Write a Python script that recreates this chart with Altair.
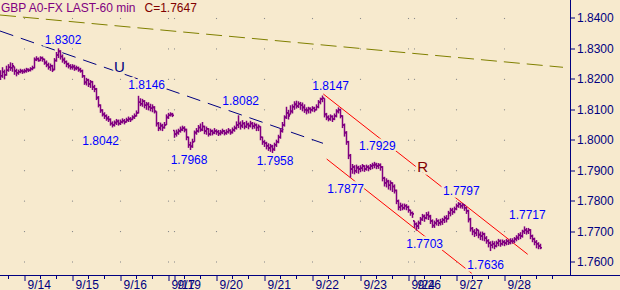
import altair as alt
import pandas as pd

BG = "#F7EACE"
PURPLE = "#800080"
NAVY = "#000080"
FONT = "Liberation Sans"

# ---------------- axis data ----------------
day_ticks = [12, 36, 60, 84, 87, 108, 132, 156, 180, 204, 207, 228, 252]
day_labels = ["9/14", "9/15", "9/16", "9/17", "9/19", "9/20", "9/21",
              "9/22", "9/23", "9/24", "9/26", "9/27", "9/28"]
minor_ticks = [4, 20, 28, 44, 52, 68, 76, 92, 100, 116, 124, 140, 148, 164,
               172, 188, 196, 212, 220, 236, 244, 260, 268, 276]
price_ticks = [1.76, 1.77, 1.78, 1.79, 1.80, 1.81, 1.82, 1.83, 1.84]

title_text = "GBP A0-FX LAST-60 min"
last_text = "C=1.7647"

# ---------------- hourly bars ----------------
highs = [
    1.8230, 1.8240, 1.8232, 1.8245, 1.8250, 1.8256, 1.8254, 1.8242, 1.8235, 1.8232, 1.8235, 1.8233,
    1.8235, 1.8238, 1.8236, 1.8240, 1.8245, 1.8272, 1.8276, 1.8272, 1.8276, 1.8275, 1.8268, 1.8262,
    1.8255, 1.8252, 1.8248, 1.8270, 1.8290, 1.8302, 1.8296, 1.8282, 1.8272, 1.8262, 1.8255, 1.8250,
    1.8250, 1.8248, 1.8245, 1.8242, 1.8238, 1.8232, 1.8214, 1.8205, 1.8202, 1.8198, 1.8195, 1.8182,
    1.8172, 1.8145, 1.8118, 1.8102, 1.8092, 1.8085, 1.8080, 1.8072, 1.8062, 1.8065, 1.8070, 1.8068,
    1.8068, 1.8072, 1.8070, 1.8074, 1.8078, 1.8076, 1.8082, 1.8088, 1.8098, 1.8146, 1.8138, 1.8136,
    1.8132, 1.8126, 1.8125, 1.8120, 1.8118, 1.8112, 1.8095, 1.8060, 1.8058, 1.8054, 1.8060, 1.8085,
    1.8090, 1.8092, 1.8090,
    1.8032, 1.8035, 1.8038, 1.8045, 1.8048, 1.8046, 1.8038, 1.8012, 1.7995, 1.8005, 1.8032, 1.8040,
    1.8050, 1.8055, 1.8060, 1.8048, 1.8045, 1.8040, 1.8038, 1.8035, 1.8040,
    1.8036, 1.8034, 1.8034, 1.8038, 1.8034, 1.8036, 1.8040, 1.8036, 1.8042, 1.8048, 1.8062, 1.8082,
    1.8062, 1.8066, 1.8060, 1.8064, 1.8058, 1.8064, 1.8060, 1.8058, 1.8055, 1.8052, 1.8046, 1.8012,
    1.8000, 1.7995, 1.7990, 1.7988, 1.7985, 1.7992, 1.8002, 1.8018, 1.8040, 1.8060, 1.8082, 1.8110,
    1.8100, 1.8115, 1.8118, 1.8128, 1.8130, 1.8128, 1.8126, 1.8124, 1.8118, 1.8108, 1.8110, 1.8108,
    1.8112, 1.8110, 1.8118, 1.8132, 1.8140, 1.8147, 1.8138, 1.8090, 1.8082, 1.8085, 1.8082, 1.8088,
    1.8102, 1.8108, 1.8104, 1.8082, 1.8055, 1.8030, 1.7998, 1.7955, 1.7922, 1.7918, 1.7920, 1.7916,
    1.7918, 1.7922, 1.7918, 1.7920, 1.7918, 1.7922, 1.7926, 1.7929, 1.7926, 1.7925, 1.7924, 1.7915,
    1.7880, 1.7875, 1.7870, 1.7868, 1.7862, 1.7855, 1.7838, 1.7805, 1.7795, 1.7792, 1.7792, 1.7790,
    1.7785, 1.7772, 1.7766,
    1.7735, 1.7730, 1.7736, 1.7748, 1.7758, 1.7756, 1.7764, 1.7766, 1.7755, 1.7740, 1.7736, 1.7744,
    1.7740, 1.7742, 1.7745, 1.7752, 1.7754, 1.7768, 1.7778, 1.7778, 1.7782,
    1.7792, 1.7797, 1.7795, 1.7794, 1.7790, 1.7782, 1.7772, 1.7745, 1.7715, 1.7708, 1.7712, 1.7706,
    1.7700, 1.7700, 1.7696, 1.7685, 1.7675, 1.7668, 1.7670, 1.7668, 1.7670, 1.7676, 1.7674, 1.7674,
    1.7672, 1.7676, 1.7674, 1.7678, 1.7678, 1.7682, 1.7688, 1.7695, 1.7698, 1.7706, 1.7717, 1.7712,
    1.7712, 1.7708, 1.7690, 1.7680, 1.7672, 1.7665, 1.7660,
]
lows = [
    1.8198, 1.8205, 1.8200, 1.8212, 1.8225, 1.8228, 1.8225, 1.8215, 1.8210, 1.8215, 1.8220, 1.8218,
    1.8220, 1.8222, 1.8224, 1.8226, 1.8230, 1.8236, 1.8260, 1.8258, 1.8260, 1.8258, 1.8248, 1.8240,
    1.8232, 1.8228, 1.8224, 1.8230, 1.8258, 1.8270, 1.8265, 1.8255, 1.8250, 1.8240, 1.8236, 1.8232,
    1.8232, 1.8228, 1.8230, 1.8225, 1.8222, 1.8205, 1.8182, 1.8180, 1.8175, 1.8172, 1.8165, 1.8158,
    1.8132, 1.8108, 1.8090, 1.8078, 1.8070, 1.8064, 1.8060, 1.8048, 1.8042, 1.8045, 1.8050, 1.8048,
    1.8050, 1.8055, 1.8052, 1.8058, 1.8060, 1.8060, 1.8066, 1.8070, 1.8078, 1.8088, 1.8112, 1.8110,
    1.8105, 1.8100, 1.8098, 1.8095, 1.8092, 1.8088, 1.8045, 1.8030, 1.8032, 1.8030, 1.8038, 1.8050,
    1.8070, 1.8078, 1.8076,
    1.8008, 1.8012, 1.8018, 1.8025, 1.8030, 1.8026, 1.8000, 1.7975, 1.7968, 1.7975, 1.7995, 1.8018,
    1.8025, 1.8028, 1.8030, 1.8020, 1.8018, 1.8012, 1.8015, 1.8016, 1.8020,
    1.8018, 1.8014, 1.8016, 1.8020, 1.8016, 1.8018, 1.8022, 1.8018, 1.8022, 1.8028, 1.8035, 1.8040,
    1.8035, 1.8040, 1.8036, 1.8040, 1.8036, 1.8042, 1.8036, 1.8038, 1.8030, 1.8030, 1.8000, 1.7985,
    1.7978, 1.7970, 1.7965, 1.7962, 1.7958, 1.7965, 1.7978, 1.7990, 1.8005, 1.8025, 1.8045, 1.8070,
    1.8068, 1.8085, 1.8088, 1.8100, 1.8104, 1.8106, 1.8100, 1.8095, 1.8090, 1.8085, 1.8088, 1.8088,
    1.8094, 1.8092, 1.8098, 1.8105, 1.8118, 1.8125, 1.8075, 1.8066, 1.8062, 1.8064, 1.8060, 1.8066,
    1.8075, 1.8088, 1.8072, 1.8040, 1.8012, 1.7985, 1.7938, 1.7877, 1.7890, 1.7888, 1.7892, 1.7890,
    1.7895, 1.7898, 1.7896, 1.7900, 1.7898, 1.7902, 1.7905, 1.7908, 1.7905, 1.7906, 1.7900, 1.7865,
    1.7848, 1.7845, 1.7838, 1.7835, 1.7830, 1.7825, 1.7790, 1.7770, 1.7768, 1.7770, 1.7772, 1.7770,
    1.7762, 1.7752, 1.7745,
    1.7712, 1.7703, 1.7708, 1.7722, 1.7735, 1.7732, 1.7740, 1.7738, 1.7725, 1.7712, 1.7712, 1.7720,
    1.7718, 1.7720, 1.7722, 1.7728, 1.7730, 1.7740, 1.7750, 1.7755, 1.7760,
    1.7770, 1.7778, 1.7776, 1.7775, 1.7768, 1.7758, 1.7730, 1.7700, 1.7688, 1.7682, 1.7685, 1.7678,
    1.7672, 1.7670, 1.7668, 1.7660, 1.7648, 1.7636, 1.7645, 1.7642, 1.7648, 1.7652, 1.7650, 1.7654,
    1.7652, 1.7655, 1.7656, 1.7658, 1.7660, 1.7662, 1.7668, 1.7672, 1.7675, 1.7680, 1.7692, 1.7690,
    1.7692, 1.7675, 1.7665, 1.7655, 1.7645, 1.7642, 1.7642,
]
closes = [
    1.8212, 1.8225, 1.8215, 1.8230, 1.8240, 1.8238, 1.8245, 1.8228, 1.8222, 1.8225, 1.8228, 1.8226,
    1.8228, 1.8232, 1.8230, 1.8235, 1.8238, 1.8265, 1.8268, 1.8262, 1.8270, 1.8266, 1.8255, 1.8248,
    1.8240, 1.8245, 1.8232, 1.8262, 1.8280, 1.8292, 1.8275, 1.8265, 1.8258, 1.8250, 1.8245, 1.8240,
    1.8242, 1.8236, 1.8238, 1.8232, 1.8228, 1.8212, 1.8190, 1.8198, 1.8185, 1.8192, 1.8175, 1.8168,
    1.8140, 1.8115, 1.8098, 1.8085, 1.8080, 1.8072, 1.8068, 1.8055, 1.8050, 1.8058, 1.8062, 1.8055,
    1.8060, 1.8064, 1.8060, 1.8066, 1.8070, 1.8068, 1.8075, 1.8080, 1.8090, 1.8125, 1.8120, 1.8128,
    1.8115, 1.8118, 1.8110, 1.8105, 1.8108, 1.8095, 1.8055, 1.8040, 1.8048, 1.8042, 1.8050, 1.8075,
    1.8082, 1.8085, 1.8082,
    1.8020, 1.8025, 1.8030, 1.8035, 1.8040, 1.8035, 1.8010, 1.7985, 1.7980, 1.7995, 1.8025, 1.8030,
    1.8042, 1.8035, 1.8045, 1.8030, 1.8038, 1.8020, 1.8030, 1.8025, 1.8030,
    1.8028, 1.8022, 1.8026, 1.8030, 1.8024, 1.8028, 1.8032, 1.8026, 1.8034, 1.8040, 1.8050, 1.8055,
    1.8048, 1.8055, 1.8045, 1.8052, 1.8048, 1.8055, 1.8046, 1.8050, 1.8042, 1.8045, 1.8010, 1.7995,
    1.7990, 1.7982, 1.7975, 1.7980, 1.7970, 1.7985, 1.7995, 1.8010, 1.8030, 1.8050, 1.8075, 1.8090,
    1.8080, 1.8095, 1.8110, 1.8118, 1.8112, 1.8120, 1.8115, 1.8108, 1.8100, 1.8098, 1.8104, 1.8100,
    1.8105, 1.8100, 1.8110, 1.8125, 1.8135, 1.8138, 1.8085, 1.8075, 1.8070, 1.8078, 1.8070, 1.8080,
    1.8095, 1.8100, 1.8080, 1.8050, 1.8025, 1.7995, 1.7950, 1.7905, 1.7912, 1.7900, 1.7910, 1.7905,
    1.7908, 1.7915, 1.7905, 1.7912, 1.7908, 1.7915, 1.7918, 1.7920, 1.7915, 1.7918, 1.7912, 1.7875,
    1.7860, 1.7865, 1.7852, 1.7860, 1.7848, 1.7835, 1.7800, 1.7780, 1.7785, 1.7778, 1.7785, 1.7780,
    1.7770, 1.7762, 1.7758,
    1.7725, 1.7718, 1.7728, 1.7740, 1.7750, 1.7745, 1.7755, 1.7750, 1.7735, 1.7720, 1.7728, 1.7735,
    1.7728, 1.7732, 1.7738, 1.7745, 1.7742, 1.7760, 1.7770, 1.7765, 1.7775,
    1.7785, 1.7790, 1.7785, 1.7788, 1.7778, 1.7768, 1.7740, 1.7710, 1.7700, 1.7695, 1.7705, 1.7690,
    1.7685, 1.7692, 1.7678, 1.7670, 1.7662, 1.7655, 1.7660, 1.7652, 1.7662, 1.7668, 1.7660, 1.7666,
    1.7662, 1.7668, 1.7664, 1.7670, 1.7668, 1.7675, 1.7680, 1.7688, 1.7685, 1.7700, 1.7705, 1.7700,
    1.7705, 1.7685, 1.7675, 1.7665, 1.7660, 1.7652, 1.7647,
]

# ---------------- trend lines (bar index, price) ----------------
line_names = ["olive", "olive", "blue", "blue", "red_up", "red_up", "red_lo", "red_lo"]
line_idx = [-0.25, 281.25, -0.25, 161.25, 161.4, 263.6, 163.1, 235.6]
line_price = [1.84115, 1.82397, 1.83589, 1.79900, 1.81519, 1.76253, 1.79384, 1.75629]

# ---------------- annotations ----------------
ann_text = ["1.8302", "1.8146", "1.8082", "1.8042", "1.7968", "1.7958", "1.8147",
            "1.7929", "1.7877", "1.7797", "1.7703", "1.7636", "1.7717"]
ann_idx = [22.6, 64.4, 111.4, 41.4, 85.6, 128.6, 156.4, 179.75, 163.9, 221.75, 203.4, 233.9, 254.75]
ann_price = [1.83152, 1.81674, 1.81142, 1.79834, 1.79230, 1.79177, 1.81641,
             1.79670, 1.78280, 1.78191, 1.76473, 1.75783, 1.77426]
wave_text = ["U", "R"]
wave_idx = [57.25, 208.9]
wave_price = [1.82252, 1.78973]
wave_color = [NAVY, "#800000"]

# ---------------- frames ----------------
n = len(closes)
opens = [closes[0]] + closes[:-1]
opens = [min(max(o, l), h) for o, l, h in zip(opens, lows, highs)]
bars = pd.DataFrame({"idx": list(range(n)), "high": highs, "low": lows,
                     "close": closes, "open": opens})
trend = pd.DataFrame({"line": line_names, "idx": line_idx, "price": line_price})
ann = pd.DataFrame({"text": ann_text, "idx": ann_idx, "price": ann_price})
waves = pd.DataFrame({"text": wave_text, "idx": wave_idx, "price": wave_price, "color": wave_color})
grid = pd.DataFrame([{"idx": d, "price": p} for d in day_ticks for p in price_ticks])
minor = pd.DataFrame({"idx": minor_ticks})

xs = alt.Scale(domain=[-0.25, 284.75], nice=False, zero=False)
ys = alt.Scale(domain=[1.755729, 1.846078], nice=False, zero=False)

label_expr = "".join(f"datum.value == {v} ? '{l}' : " for v, l in zip(day_ticks, day_labels)) + "''"

x_axis = alt.Axis(values=day_ticks, labelExpr=label_expr, orient="bottom", tickSize=6,
                  tickColor=NAVY, labelColor=NAVY, labelFont=FONT, labelFontSize=12,
                  labelAlign="left", labelBaseline="alphabetic", labelPadding=8, labelOffset=3,
                  domain=False, grid=False, translate=0, labelOverlap=False,
                  labelFlush=False, labelBound=False, title=None)
y_axis = alt.Axis(values=price_ticks, format=".4f", orient="right", tickSize=5,
                  tickColor=NAVY, labelColor=NAVY, labelFont=FONT, labelFontSize=12,
                  labelAlign="left", labelBaseline="middle", labelPadding=2,
                  domain=False, grid=False, translate=0, labelOverlap=False,
                  labelFlush=False, labelBound=False, title=None)


def X(f):
    return alt.X(f, type="quantitative", scale=xs, axis=x_axis)


def Y(f):
    return alt.Y(f, type="quantitative", scale=ys, axis=y_axis)


dots = alt.Chart(grid).mark_square(size=1.2, color="#8C8C8C", opacity=1).encode(
    x=X("idx"), y=Y("price"))

olive = alt.Chart(trend).transform_filter(alt.datum.line == "olive").mark_line(
    color="#808000", strokeWidth=1, strokeDash=[16, 7]).encode(x=X("idx"), y=Y("price"))
blue = alt.Chart(trend).transform_filter(alt.datum.line == "blue").mark_line(
    color=NAVY, strokeWidth=1, strokeDash=[14, 8]).encode(x=X("idx"), y=Y("price"))
red = alt.Chart(trend).transform_filter(
    (alt.datum.line == "red_up") | (alt.datum.line == "red_lo")).mark_line(
    color="#FF0000", strokeWidth=1).encode(x=X("idx"), y=Y("price"), detail="line:N")

halo_nums = alt.Chart(ann).mark_text(font=FONT, fontSize=12, align="left", baseline="alphabetic",
                                     dx=-1, fill=BG, stroke=BG, strokeWidth=5).encode(
    x=X("idx"), y=Y("price"), text="text:N")
halo_waves = alt.Chart(waves).mark_text(font=FONT, fontSize=15, align="left",
                                        baseline="alphabetic", dx=-1, fill=BG, stroke=BG,
                                        strokeWidth=5).encode(
    x=X("idx"), y=Y("price"), text="text:N")

hl = alt.Chart(bars).mark_rule(color=PURPLE, strokeWidth=1.5).encode(
    x=X("idx"), y=Y("low"), y2=alt.Y2("high"))
op = alt.Chart(bars).mark_rule(color=PURPLE, strokeWidth=1.6, xOffset=-1.5, x2Offset=0).encode(
    x=X("idx"), x2=alt.X2("idx"), y=Y("open"))
cl = alt.Chart(bars).mark_rule(color=PURPLE, strokeWidth=1.6, xOffset=0, x2Offset=1.5).encode(
    x=X("idx"), x2=alt.X2("idx"), y=Y("close"))

nums = alt.Chart(ann).mark_text(font=FONT, fontSize=12, align="left", baseline="alphabetic",
                                dx=-1, color="#0000FF").encode(
    x=X("idx"), y=Y("price"), text="text:N")
wave_lbl = alt.Chart(waves).mark_text(font=FONT, fontSize=15, align="left",
                                      baseline="alphabetic", dx=-1).encode(
    x=X("idx"), y=Y("price"), text="text:N", color=alt.Color("color:N", scale=None))

minor_rules = alt.Chart(minor).mark_rule(color=NAVY, strokeWidth=1).encode(
    x=X("idx"), y=alt.value(275), y2=alt.value(279))

frame_v = alt.Chart(minor).mark_rule(color=NAVY, strokeWidth=1).encode(
    x=alt.value(570.5), y=alt.value(0), y2=alt.value(275))
frame_h = alt.Chart(minor).mark_rule(color=NAVY, strokeWidth=1.2).encode(
    x=alt.value(0), x2=alt.value(620), y=alt.value(275.5))

title1 = alt.Chart(pd.DataFrame({"t": [title_text]})).mark_text(
    font=FONT, fontSize=12, align="left", baseline="alphabetic", color=PURPLE).encode(
    x=alt.value(1), y=alt.value(12), text="t:N")
title2 = alt.Chart(pd.DataFrame({"t": [last_text]})).mark_text(
    font=FONT, fontSize=12, align="left", baseline="alphabetic", color="#800000").encode(
    x=alt.value(144.5), y=alt.value(12), text="t:N")

chart = alt.layer(
    dots, olive, blue, red, halo_nums, halo_waves, hl, op, cl, nums, wave_lbl,
    minor_rules, frame_v, frame_h, title1, title2
).properties(
    width=570, height=275, background=BG,
    padding={"left": 0, "top": 0, "right": 50, "bottom": 15},
    autosize=alt.AutoSizeParams(type="none")
).configure_view(stroke="transparent", fill=BG)

chart.save("out.html", embed_options={"renderer": "svg", "actions": False})
